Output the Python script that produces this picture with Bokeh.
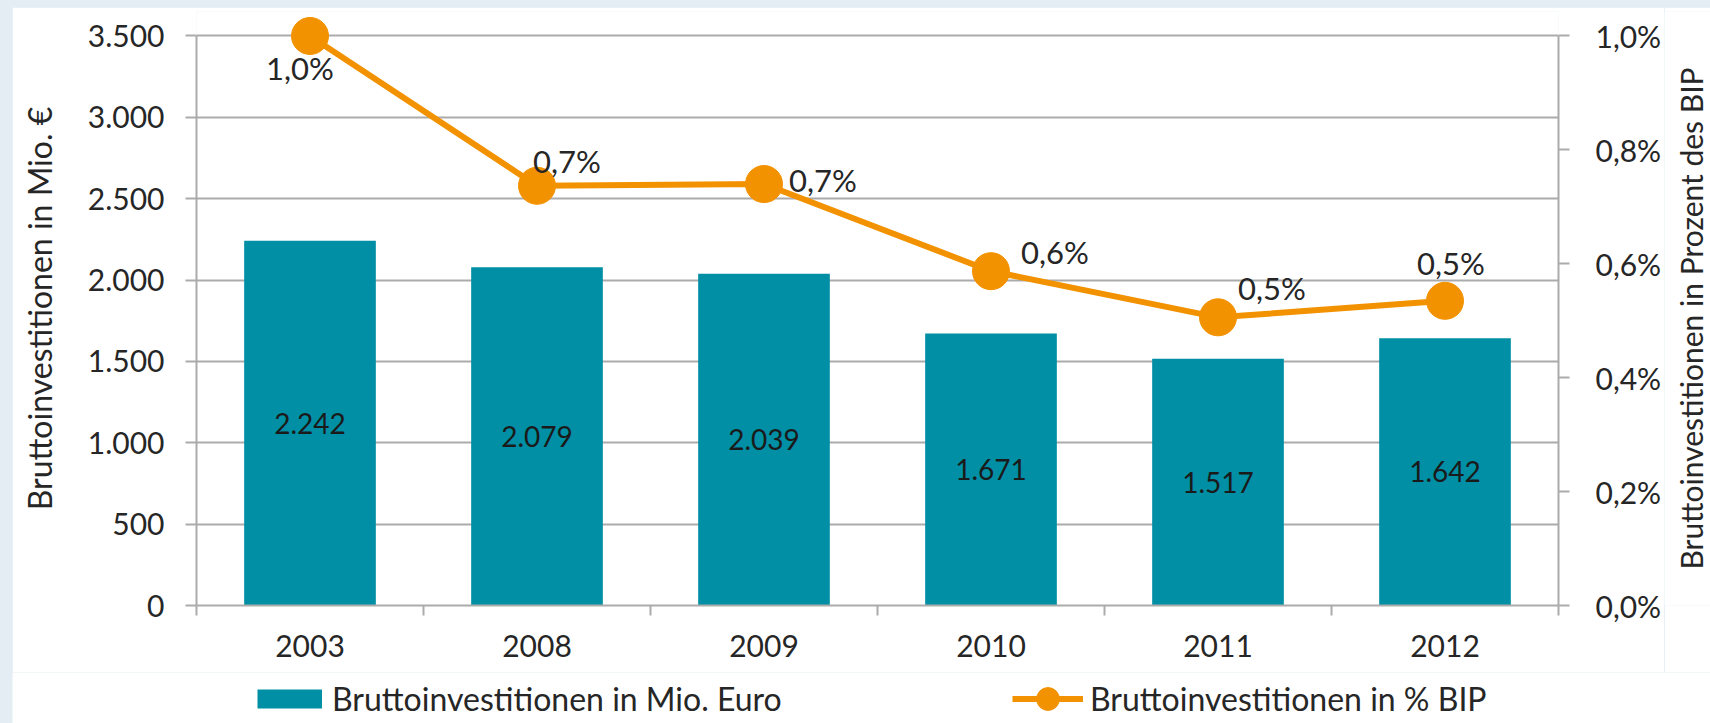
import math
from bokeh.plotting import figure
from bokeh.layouts import row, column
from bokeh.models import (Range1d, LinearAxis, FixedTicker,
                          ColumnDataSource, Legend, LegendItem, Grid)
from bokeh.core.properties import value
from bokeh.embed import file_html
from bokeh.resources import INLINE

# ---- data ----
years = ["2003", "2008", "2009", "2010", "2011", "2012"]
invest_mio = [2242, 2079, 2039, 1671, 1517, 1642]
invest_pct = [1.00, 0.737, 0.740, 0.587, 0.506, 0.535]
bar_labels = ["2.242", "2.079", "2.039", "1.671", "1.517", "1.642"]
pct_labels = ["1,0%", "0,7%", "0,7%", "0,6%", "0,5%", "0,5%"]
left_ticks = [0, 500, 1000, 1500, 2000, 2500, 3000, 3500]
left_tick_labels = ["0", "500", "1.000", "1.500", "2.000", "2.500", "3.000", "3.500"]
right_ticks = [0.0, 0.2, 0.4, 0.6, 0.8, 1.0]
right_tick_labels = ["0,0%", "0,2%", "0,4%", "0,6%", "0,8%", "1,0%"]
left_title = "Bruttoinvestitionen in Mio. €"
right_title = "Bruttoinvestitionen in Prozent des BIP"
legend_labels = ["Bruttoinvestitionen in Mio. Euro", "Bruttoinvestitionen in % BIP"]

# label placement (screen px offsets, layout only)
pct_label_dx = [-10, 30, 59, 64, 54, 6]
pct_label_dy = [32, -25, -4, -19, -29, -38]

FONT = "Lato"
FS_NUM = "30px"
FS_TXT = "32px"
TEAL = "#008fa4"
ORANGE = "#f39200"
GRID = "#ababab"
TXT = "#262626"

n = len(years)
xpos = [i + 0.5 for i in range(n)]          # category slot centres
bounds = list(range(n + 1))                  # category slot boundaries
Y_MAX, P_MAX = 3500, 1.0
HEAD = 1.043                                 # headroom so the top marker is not clipped

src = ColumnDataSource(dict(
    x=xpos, mio=invest_mio, mid=[v / 2 for v in invest_mio], bar_label=bar_labels,
    pct=invest_pct, pct_label=pct_labels, dx=pct_label_dx, dy=pct_label_dy,
))

common = dict(output_backend="svg", toolbar_location=None, x_axis_type=None, y_axis_type=None,
              background_fill_color="white", border_fill_color="white")

# ---------------- main chart ----------------
p = figure(width=1652, height=665,
           x_range=Range1d(0, n), y_range=Range1d(0, Y_MAX * HEAD),
           min_border_left=184, min_border_right=102, min_border_top=4, min_border_bottom=67,
           **common)
p.outline_line_color = None
p.extra_y_ranges = {"pct": Range1d(0, P_MAX * HEAD)}

yaxis = LinearAxis(ticker=FixedTicker(ticks=left_ticks), bounds=(0, Y_MAX),
                   major_label_overrides=dict(zip(left_ticks, left_tick_labels)),
                   axis_label=left_title)
raxis = LinearAxis(y_range_name="pct", ticker=FixedTicker(ticks=right_ticks), bounds=(0, P_MAX),
                   major_label_overrides=dict(zip(right_ticks, right_tick_labels)))
for ax, st in ((yaxis, 21), (raxis, 26)):
    ax.major_tick_in = 0
    ax.major_tick_out = 11
    ax.minor_tick_line_color = None
    ax.major_tick_line_color = GRID
    ax.major_tick_line_width = 2
    ax.axis_line_color = GRID
    ax.axis_line_width = 2
    ax.major_label_standoff = st
    ax.major_label_text_font = FONT
    ax.major_label_text_font_size = FS_NUM
    ax.major_label_text_color = TXT
yaxis.axis_label_standoff = 26
yaxis.axis_label_text_font = FONT
yaxis.axis_label_text_font_size = FS_TXT
yaxis.axis_label_text_font_style = "normal"
yaxis.axis_label_text_color = TXT
p.add_layout(yaxis, "left")
p.add_layout(raxis, "right")

# bottom axis: labels at slot centres, (minor) tick marks at slot boundaries
xaxis = LinearAxis(ticker=FixedTicker(ticks=xpos, minor_ticks=bounds),
                   major_label_overrides=dict(zip(xpos, years)),
                   major_tick_line_color=None, major_tick_in=0, major_tick_out=0,
                   minor_tick_in=0, minor_tick_out=10,
                   minor_tick_line_color=GRID, minor_tick_line_width=2,
                   axis_line_color=GRID, axis_line_width=2,
                   major_label_standoff=19, major_label_text_font=FONT,
                   major_label_text_font_size=FS_NUM, major_label_text_color=TXT)
p.add_layout(xaxis, "below")

p.add_layout(Grid(dimension=1, ticker=FixedTicker(ticks=left_ticks),
                  grid_line_color=GRID, grid_line_width=2))

p.vbar(x="x", top="mio", width=0.58, source=src, fill_color=TEAL, line_color=None)
p.text(x="x", y="mid", text="bar_label", source=src, text_align="center",
       text_baseline="middle", text_font=value(FONT), text_font_size="28px", text_color="#1a1a1a")

p.line(x="x", y="pct", source=src, y_range_name="pct", line_color=ORANGE, line_width=6)
p.scatter(x="x", y="pct", source=src, y_range_name="pct", marker="circle", size=37,
          fill_color=ORANGE, line_color=ORANGE)
p.text(x="x", y="pct", text="pct_label", source=src, y_range_name="pct",
       x_offset="dx", y_offset="dy", text_align="center", text_baseline="middle",
       text_font=value(FONT), text_font_size="31px", text_color=TXT)

# ---------------- right axis title (reads bottom-to-top) ----------------
p3 = figure(width=46, height=665, x_range=Range1d(0, 1), y_range=Range1d(0, 1),
            min_border_left=0, min_border_right=0, min_border_top=4, min_border_bottom=67,
            **common)
p3.outline_line_color = None
p3.text(x=[0.5], y=[0.5], text=[right_title], angle=math.pi / 2, x_offset=3, y_offset=10,
        text_align="center", text_baseline="middle",
        text_font=value(FONT), text_font_size="30px", text_color=TXT)

# ---------------- legend strip ----------------
# legend proxies re-use the real data; in this strip's (0..1) ranges they fall outside the view
p2 = figure(width=1698, height=51, x_range=Range1d(0, 1), y_range=Range1d(0, 1),
            min_border_left=0, min_border_right=0, min_border_top=0, min_border_bottom=0,
            **common)
p2.outline_line_color = None
sw_bar = p2.line(x="x", y="mio", source=src, line_color=TEAL, line_width=19, line_cap="butt")
sw_line = p2.line(x="x", y="mio", source=src, line_color=ORANGE, line_width=6)
sw_dot = p2.scatter(x="x", y="mio", source=src, marker="circle", fill_color=ORANGE, line_color=ORANGE)

leg_common = dict(orientation="horizontal", padding=0, margin=0, border_line_color=None,
                  background_fill_alpha=0, label_text_font=FONT, label_text_font_size=FS_TXT,
                  label_text_color=TXT, glyph_height=57, label_height=57)
leg1 = Legend(items=[LegendItem(label=legend_labels[0], renderers=[sw_bar])],
              location=(245, -4), glyph_width=65, label_standoff=10, **leg_common)
leg2 = Legend(items=[LegendItem(label=legend_labels[1], renderers=[sw_line, sw_dot])],
              location=(1000, -4), glyph_width=71, label_standoff=7, **leg_common)
p2.add_layout(leg1)
p2.add_layout(leg2)

layout = column(row(p, p3, spacing=0), p2, spacing=0)

html = file_html(layout, INLINE)
css = ("<style>html,body{margin:0!important;background:#e3edf3!important;}"
       "body{padding:7px 0 0 12px!important;box-sizing:border-box;}</style>")
html = html.replace("</head>", css + "</head>", 1)
open("out.html", "w").write(html)
